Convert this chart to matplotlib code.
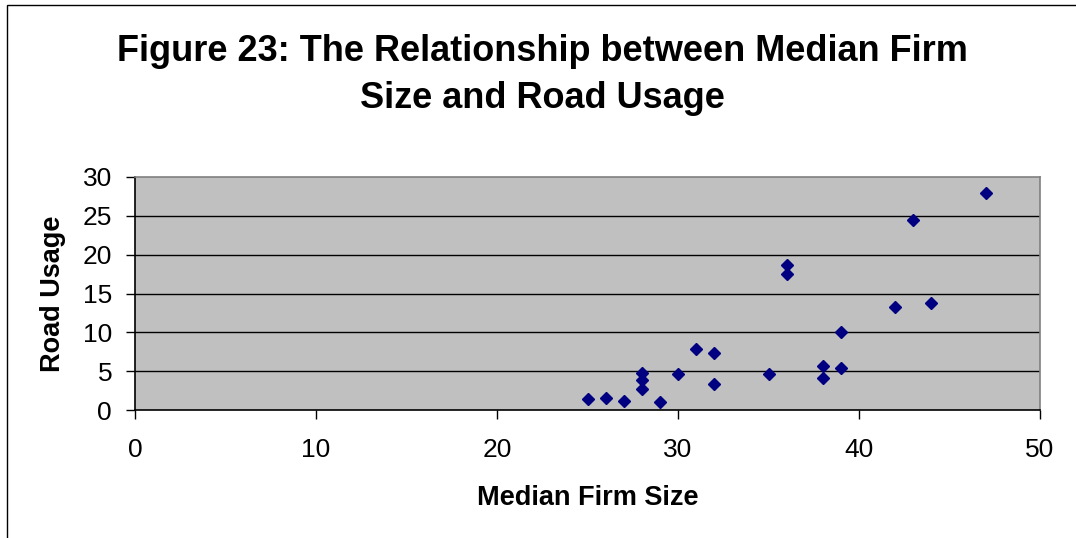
import matplotlib.pyplot as plt
from matplotlib.patches import Rectangle

plt.rcParams['font.family'] = ['Liberation Sans', 'DejaVu Sans']

# median firm size vs road usage
firm_size = [25, 26, 27, 28, 28, 28, 29, 30, 31, 32, 32,
             35, 36, 36, 38, 38, 39, 39, 42, 43, 44, 47]
road_usage = [1.4, 1.5, 1.2, 4.8, 3.9, 2.7, 1.0, 4.6, 7.8, 7.4, 3.4,
              4.6, 18.7, 17.5, 5.7, 4.1, 5.4, 10.0, 13.3, 24.4, 13.8, 27.9]

x_ticks = [0, 10, 20, 30, 40, 50]
y_ticks = [0, 5, 10, 15, 20, 25, 30]

fig = plt.figure(figsize=(10.76, 5.38), dpi=100)
ax = fig.add_axes([135 / 1076, 1 - 410 / 538, 905 / 1076, 233 / 538])
ax.set_facecolor('#C0C0C0')

# outer frame of the chart object
fig.patches.append(Rectangle((7 / 1076, -0.1), 1.2, 1 - 5 / 538 + 0.1,
                             transform=fig.transFigure, fill=False,
                             edgecolor='black', linewidth=1))

for y in y_ticks[1:-1]:
    ax.axhline(y, color='black', linewidth=1, zorder=1)

ax.plot(firm_size, road_usage, linestyle='none', marker='D', markersize=6.3,
        color='#000080', zorder=3)

ax.set_xlim(0, 50)
ax.set_ylim(0, 30)
ax.set_xticks(x_ticks)
ax.set_yticks(y_ticks)
ax.tick_params(axis='both', direction='out', length=6.5, width=1,
               labelsize=19, colors='black')
ax.tick_params(axis='x', pad=14)
ax.tick_params(axis='y', pad=10)

ax.spines['left'].set_color('black')
ax.spines['bottom'].set_color('black')
ax.spines['top'].set_color('#808080')
ax.spines['right'].set_color('#808080')
for s in ax.spines.values():
    s.set_linewidth(1.2)

ax.set_xlabel('Median Firm Size', fontsize=19.5, fontweight='bold', labelpad=16)
ax.set_ylabel('Road Usage', fontsize=19.5, fontweight='bold', labelpad=12)

fig.text(0.504, 1 - 75 / 538, 'Figure 23: The Relationship between Median Firm\nSize and Road Usage',
         ha='center', va='center', fontsize=26, fontweight='bold',
         linespacing=1.42)

fig.savefig('out.png', dpi=100)
